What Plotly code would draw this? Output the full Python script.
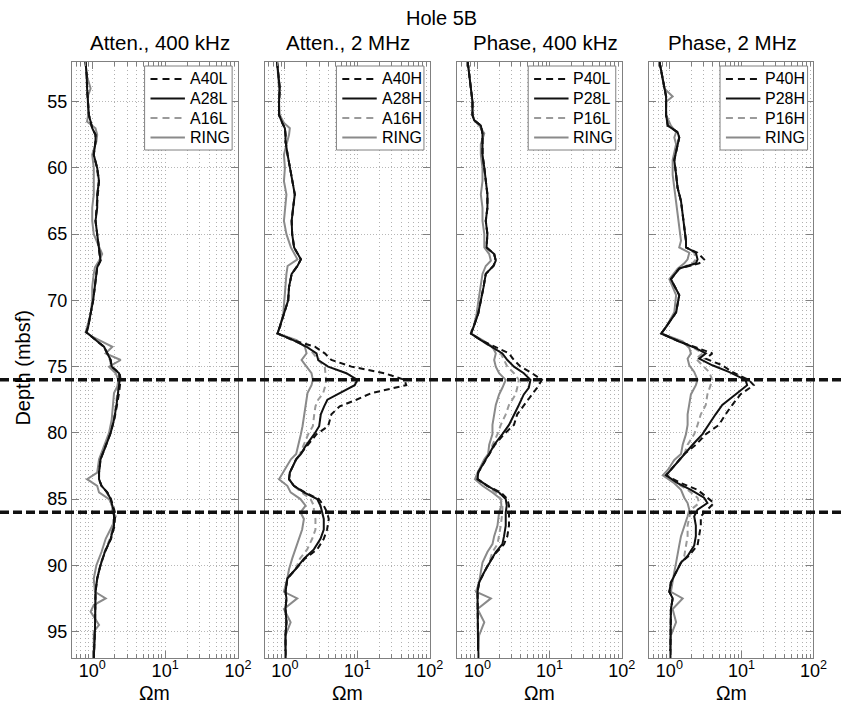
import plotly.graph_objects as go

# ---------------- data (resistivity in ohm-m vs depth in mbsf) ----------------
# Panel 1: Attenuation, 400 kHz
depth_p1 = [52, 53, 54, 54.5, 55, 56, 56.5, 57, 57.5, 58, 59, 60, 61, 62, 63, 64, 65, 66, 66.5, 67,
            67.5, 68, 69, 70, 71, 72, 72.4, 72.8, 73.2, 73.5, 74, 74.5, 75, 75.5, 76, 76.5, 77, 78, 79, 80,
            81, 82, 83, 83.5, 84, 84.5, 85, 85.5, 86, 86.3, 87, 88, 89, 90, 91, 92, 92.5, 93, 93.5, 94,
            94.5, 95, 96, 97]
A40L = [0.81, 0.84, 0.85, 0.86, 0.87, 0.90, 0.95, 1.00, 1.11, 1.11, 1.05, 1.17, 1.24, 1.20, 1.17, 1.11, 1.17, 1.24, 1.26, 1.30,
        1.17, 1.14, 1.09, 1.03, 0.95, 0.88, 0.83, 1.00, 1.24, 1.45, 1.61, 1.79, 1.85, 2.38, 2.45, 2.40, 2.33, 2.17, 2.01, 1.79,
        1.53, 1.30, 1.24, 1.24, 1.34, 1.61, 1.81, 1.93, 2.05, 2.05, 2.03, 1.81, 1.49, 1.30, 1.17, 1.11, 1.11, 1.11, 1.11, 1.11,
        1.11, 1.09, 1.07, 1.05]
A28L = [0.81, 0.84, 0.85, 0.86, 0.87, 0.90, 0.95, 1.00, 1.11, 1.11, 1.05, 1.17, 1.24, 1.17, 1.17, 1.11, 1.17, 1.24, 1.26, 1.30,
        1.17, 1.14, 1.09, 1.03, 0.95, 0.88, 0.83, 1.00, 1.24, 1.45, 1.61, 1.79, 1.85, 2.33, 2.38, 2.33, 2.28, 2.14, 1.99, 1.79,
        1.53, 1.30, 1.24, 1.24, 1.34, 1.61, 1.79, 1.89, 1.99, 1.99, 1.99, 1.79, 1.49, 1.30, 1.17, 1.11, 1.11, 1.11, 1.11, 1.11,
        1.11, 1.09, 1.07, 1.05]
A16L = [0.81, 0.84, 0.85, 0.86, 0.87, 0.90, 0.95, 1.00, 1.11, 1.11, 1.05, 1.15, 1.22, 1.17, 1.15, 1.11, 1.17, 1.24, 1.26, 1.28,
        1.17, 1.14, 1.09, 1.03, 0.95, 0.88, 0.83, 1.00, 1.24, 1.45, 1.59, 1.75, 1.82, 2.28, 2.33, 2.28, 2.22, 2.10, 1.96, 1.77,
        1.53, 1.30, 1.24, 1.24, 1.34, 1.58, 1.75, 1.85, 1.94, 1.95, 1.94, 1.75, 1.47, 1.28, 1.17, 1.11, 1.11, 1.11, 1.11, 1.11,
        1.11, 1.09, 1.07, 1.05]
RING_p1 = [0.81, 0.84, 0.95, 0.88, 0.87, 0.88, 0.85, 1.11, 1.17, 1.14, 1.00, 1.05, 1.05, 1.05, 1.00, 1.00, 1.05, 1.26, 1.37, 1.24,
           1.09, 1.05, 1.00, 1.00, 0.95, 0.85, 0.81, 1.05, 1.45, 1.89, 1.53, 2.46, 1.70, 2.10, 2.28, 2.21, 1.99, 1.93, 1.85, 1.70,
           1.45, 1.24, 1.17, 0.85, 1.17, 1.24, 1.70, 1.89, 1.89, 2.10, 1.89, 1.53, 1.34, 1.14, 1.05, 1.09, 1.53, 1.05, 0.95, 1.09,
           1.24, 1.05, 1.04, 1.05]

# Panel 2: Attenuation, 2 MHz
depth_p2 = [52, 53, 54, 55, 56, 56.6, 57, 57.5, 58, 59, 60, 61, 62, 63, 64, 65, 66, 66.9, 67.4, 68,
            69, 70, 71, 72, 72.5, 73, 73.5, 74, 74.5, 75, 75.5, 76, 76.4, 77, 77.5, 78, 78.6, 79.5, 80.1, 81,
            81.6, 82, 83, 83.5, 84, 84.5, 85, 85.5, 86, 86.5, 87.3, 88, 88.8, 89.5, 90.3, 91, 92, 92.5, 93.3, 94.3,
            95.3, 97]
A40H = [0.78, 0.81, 0.85, 0.83, 0.83, 0.92, 1.00, 1.02, 1.02, 1.09, 1.17, 1.26, 1.37, 1.30, 1.24, 1.26, 1.34, 1.66, 1.49, 1.24,
        1.14, 1.11, 0.98, 0.85, 0.79, 1.30, 2.59, 3.55, 4.38, 8.27, 23.7, 44.8, 47.2, 15.6, 9.68, 5.71, 4.38, 3.95, 2.73, 1.99,
        1.66, 1.43, 1.17, 1.14, 1.33, 1.89, 2.94, 3.44, 3.82, 4.03, 3.82, 3.44, 2.79, 1.89, 1.40, 1.08, 1.02, 1.05, 1.02, 1.05,
        1.02, 1.02]
A28H = [0.78, 0.81, 0.85, 0.83, 0.83, 0.92, 1.00, 1.02, 1.02, 1.09, 1.17, 1.26, 1.37, 1.30, 1.24, 1.26, 1.34, 1.66, 1.49, 1.24,
        1.14, 1.11, 0.98, 0.85, 0.79, 1.30, 1.99, 2.73, 2.88, 3.95, 7.05, 10.0, 9.19, 5.71, 3.86, 3.48, 3.13, 2.97, 2.54, 1.93,
        1.66, 1.43, 1.17, 1.14, 1.33, 1.83, 2.79, 3.10, 3.26, 3.44, 3.44, 3.10, 2.51, 1.83, 1.40, 1.08, 1.02, 1.05, 1.02, 1.05,
        1.02, 1.02]
A16H = [0.78, 0.81, 0.85, 0.83, 0.83, 0.92, 1.00, 1.02, 1.02, 1.09, 1.17, 1.26, 1.37, 1.30, 1.24, 1.26, 1.34, 1.66, 1.49, 1.24,
        1.14, 1.11, 0.98, 0.85, 0.79, 1.30, 2.05, 2.46, 2.88, 3.55, 3.66, 3.70, 3.63, 3.37, 2.88, 2.64, 2.54, 2.43, 2.10, 1.79,
        1.61, 1.43, 1.17, 1.14, 1.33, 1.70, 2.26, 2.51, 2.51, 2.64, 2.64, 2.38, 2.03, 1.61, 1.40, 1.08, 1.02, 1.05, 1.02, 1.05,
        1.02, 1.02]
RING_p2 = [0.78, 0.81, 0.83, 0.83, 0.85, 0.97, 1.17, 1.14, 1.08, 0.97, 1.00, 0.97, 1.05, 1.02, 0.97, 1.05, 1.21, 1.49, 1.09, 1.05,
           1.02, 0.98, 0.95, 0.85, 0.79, 1.45, 1.89, 1.99, 1.70, 1.99, 2.33, 2.43, 2.33, 2.05, 1.99, 1.89, 1.85, 1.75, 1.66, 1.53,
           1.43, 1.21, 0.95, 0.83, 1.08, 1.20, 1.64, 1.93, 1.64, 1.83, 1.73, 1.56, 1.40, 1.26, 1.14, 1.08, 0.97, 1.48, 0.97, 1.20,
           1.02, 1.02]

# Panel 3: Phase, 400 kHz
depth_p3 = [52, 53, 54, 55, 56, 56.4, 56.8, 57.4, 58.2, 59, 60, 61, 62, 63, 64, 65, 66, 66.5, 67, 67.4,
            68, 69, 70, 71, 72, 72.5, 73, 73.5, 74, 74.5, 75, 75.5, 76, 76.6, 77.1, 77.9, 78.6, 79.4, 80.1, 80.9,
            81.6, 82, 83, 83.5, 84, 84.5, 85, 85.5, 86, 87, 87.8, 88.4, 89, 89.8, 90.5, 91.3, 92, 92.5, 93.3, 94.3,
            95.3, 97]
P40L = [0.73, 0.77, 0.81, 0.85, 0.85, 0.90, 1.11, 1.17, 1.17, 1.17, 1.24, 1.30, 1.37, 1.37, 1.30, 1.37, 1.33, 1.70, 1.79, 1.66,
        1.30, 1.21, 1.11, 1.02, 0.88, 0.81, 1.11, 1.70, 2.73, 3.20, 3.95, 5.71, 7.84, 6.69, 5.71, 4.38, 3.55, 3.20, 2.33, 1.74,
        1.45, 1.30, 1.02, 1.00, 1.37, 2.10, 2.59, 2.73, 2.73, 2.73, 2.59, 2.33, 1.85, 1.45, 1.24, 1.05, 1.00, 1.00, 1.00, 1.02,
        1.02, 1.02]
P28L = [0.73, 0.77, 0.81, 0.85, 0.85, 0.90, 1.11, 1.17, 1.17, 1.17, 1.24, 1.30, 1.37, 1.37, 1.30, 1.37, 1.33, 1.70, 1.79, 1.66,
        1.30, 1.21, 1.11, 1.02, 0.88, 0.81, 1.11, 1.56, 2.21, 2.59, 3.20, 4.38, 5.42, 5.14, 4.38, 3.74, 3.20, 2.73, 2.21, 1.70,
        1.45, 1.30, 1.02, 1.00, 1.37, 1.99, 2.46, 2.54, 2.46, 2.46, 2.33, 2.21, 1.79, 1.45, 1.24, 1.05, 1.00, 1.00, 1.00, 1.02,
        1.02, 1.02]
P16L = [0.73, 0.77, 0.81, 0.85, 0.85, 0.90, 1.11, 1.17, 1.17, 1.17, 1.24, 1.30, 1.37, 1.37, 1.30, 1.37, 1.33, 1.70, 1.79, 1.66,
        1.30, 1.21, 1.11, 1.02, 0.88, 0.81, 1.11, 1.56, 2.10, 2.33, 2.59, 3.20, 3.74, 3.55, 3.37, 2.73, 2.46, 2.10, 1.89, 1.61,
        1.45, 1.30, 1.02, 1.00, 1.37, 1.79, 2.10, 2.21, 2.21, 2.10, 1.99, 1.89, 1.61, 1.45, 1.24, 1.05, 1.00, 1.00, 1.00, 1.02,
        1.02, 1.02]
RING_p3 = [0.73, 0.77, 0.81, 0.85, 0.85, 0.90, 1.05, 1.24, 1.11, 1.11, 1.17, 1.17, 1.11, 1.17, 1.17, 1.24, 1.24, 1.45, 1.53, 1.30,
           1.17, 1.09, 1.03, 0.97, 0.88, 0.81, 1.17, 1.61, 1.79, 1.70, 1.79, 1.99, 2.46, 2.21, 1.99, 1.79, 1.70, 1.61, 1.61, 1.45,
           1.40, 1.24, 1.00, 0.92, 1.17, 1.61, 2.10, 2.14, 1.99, 1.89, 1.70, 1.61, 1.37, 1.17, 1.11, 1.05, 0.95, 1.53, 1.00, 1.24,
           1.05, 1.02]

# Panel 4: Phase, 2 MHz
depth_p4 = [52, 53, 54, 54.6, 55, 56, 56.8, 57.3, 57.7, 58.2, 59.4, 60.5, 61.5, 62.5, 63.5, 64.5, 65.5, 66, 66.4, 66.9,
            67.2, 67.6, 68.4, 69.6, 70.9, 72, 72.5, 73.1, 73.6, 74, 74.4, 74.9, 75.4, 76, 76.4, 77.1, 77.9, 78.6, 79.4, 80.1,
            80.9, 81.6, 82.05, 82.8, 83.2, 83.8, 84.3, 84.9, 85.3, 85.8, 86.3, 87, 87.8, 88.5, 89.3, 89.8, 90.5, 91.3, 92, 92.5,
            93.3, 94.3, 95.3, 97]
P40H = [0.73, 0.79, 0.85, 0.90, 0.90, 0.90, 0.95, 1.30, 1.37, 1.30, 1.17, 1.24, 1.30, 1.45, 1.53, 1.61, 1.70, 1.70, 2.46, 3.03,
        2.59, 1.37, 1.05, 1.37, 1.24, 0.90, 0.77, 1.37, 2.46, 3.95, 3.20, 5.42, 7.44, 12.6, 14.8, 9.68, 7.44, 6.02, 4.87, 3.20,
        2.33, 1.61, 1.37, 1.05, 0.90, 1.45, 2.46, 3.37, 4.16, 3.37, 2.73, 2.73, 2.59, 2.46, 1.85, 1.45, 1.24, 1.05, 1.00, 1.11,
        1.05, 1.05, 1.03, 1.03]
P28H = [0.73, 0.79, 0.85, 0.90, 0.90, 0.90, 0.95, 1.30, 1.37, 1.30, 1.17, 1.24, 1.30, 1.45, 1.53, 1.61, 1.70, 1.70, 2.33, 2.46,
        2.33, 1.37, 1.05, 1.37, 1.24, 0.90, 0.77, 1.37, 2.33, 3.20, 2.59, 3.95, 6.69, 11.4, 12.0, 8.27, 5.42, 4.38, 3.55, 2.88,
        2.10, 1.61, 1.37, 1.05, 0.90, 1.30, 1.99, 3.03, 3.37, 2.46, 2.21, 2.33, 2.33, 2.21, 1.79, 1.45, 1.24, 1.05, 1.00, 1.11,
        1.05, 1.05, 1.03, 1.03]
P16H = [0.73, 0.79, 0.85, 0.90, 0.90, 0.90, 0.95, 1.30, 1.37, 1.30, 1.17, 1.24, 1.30, 1.45, 1.53, 1.61, 1.70, 1.70, 2.21, 2.33,
        2.10, 1.37, 1.05, 1.37, 1.24, 0.90, 0.77, 1.37, 2.21, 2.88, 2.33, 2.88, 3.55, 3.95, 3.74, 3.37, 3.20, 2.73, 2.46, 2.21,
        1.79, 1.61, 1.37, 1.05, 0.90, 1.24, 1.79, 2.46, 2.59, 1.99, 1.89, 1.79, 1.79, 1.70, 1.61, 1.45, 1.24, 1.05, 1.00, 1.11,
        1.05, 1.05, 1.03, 1.03]
RING_p4 = [0.73, 0.79, 0.85, 1.11, 0.90, 0.90, 1.05, 1.24, 1.17, 1.24, 1.11, 1.11, 1.17, 1.24, 1.30, 1.37, 1.45, 1.37, 1.89, 1.79,
           1.61, 1.30, 1.00, 1.24, 1.17, 0.90, 0.77, 1.53, 1.89, 1.99, 1.79, 1.89, 2.21, 2.46, 2.33, 1.99, 1.89, 1.79, 1.79, 1.70,
           1.53, 1.45, 1.17, 0.95, 0.81, 1.17, 1.45, 1.61, 1.79, 1.89, 1.79, 1.61, 1.45, 1.37, 1.30, 1.24, 1.17, 1.11, 1.05, 1.53,
           1.11, 1.24, 1.05, 1.03]

panel_titles = ["Atten., 400 kHz", "Atten., 2 MHz", "Phase, 400 kHz", "Phase, 2 MHz"]
series_names = [["A40L", "A28L", "A16L", "RING"],
                ["A40H", "A28H", "A16H", "RING"],
                ["P40L", "P28L", "P16L", "RING"],
                ["P40H", "P28H", "P16H", "RING"]]
marker_depths = [76, 86]
x_tick_vals = [1, 10, 100]
x_tick_text = ["10<sup>0</sup>", "10<sup>1</sup>", "10<sup>2</sup>"]
y_tick_vals = [55, 60, 65, 70, 75, 80, 85, 90, 95]
main_title = "Hole 5B"
x_label = "Ωm"
y_label = "Depth (mbsf)"

panels = [
    (depth_p1, [A40L, A28L, A16L, RING_p1]),
    (depth_p2, [A40H, A28H, A16H, RING_p2]),
    (depth_p3, [P40L, P28L, P16L, RING_p3]),
    (depth_p4, [P40H, P28H, P16H, RING_p4]),
]

# ---------------- layout geometry (pixels) ----------------
W, H = 856, 704
FONT = "Liberation Sans, Arial, Helvetica, sans-serif"
panel_px = [(73, 242), (269, 437), (465, 632), (660, 827)]
title_center_px = [163, 354, 555, 745]
top_px, bot_px = 62, 658

def px_x(v):
    return v / W

def px_y(v):
    return 1 - v / H

# style per series: (color, dash, width)
styles = [("#111111", "6px,4px", 2.0),
          ("#111111", "solid", 2.0),
          ("#9a9a9a", "6px,4px", 2.0),
          ("#8a8a8a", "solid", 2.0)]
legend_dash = {"solid": None, "6px,4px": "7px,5px"}
draw_order = [3, 2, 1, 0]

fig = go.Figure()
layout = dict(
    width=W, height=H,
    margin=dict(l=0, r=0, t=0, b=0),
    paper_bgcolor="white", plot_bgcolor="white",
    font=dict(family=FONT, size=18, color="black"),
    showlegend=False,
)

annotations = []
shapes = []

for i, ((depths, series), names) in enumerate(zip(panels, series_names)):
    n = i + 1
    xa = "x" if n == 1 else f"x{n}"
    ya = "y" if n == 1 else f"y{n}"
    for k in draw_order:
        color, dash, width = styles[k]
        fig.add_trace(go.Scatter(
            x=series[k], y=depths, mode="lines", name=names[k],
            line=dict(color=color, dash=dash, width=width),
            xaxis=xa, yaxis=ya, hoverinfo="skip",
        ))
    L, R = panel_px[i]
    xkey = "xaxis" if n == 1 else f"xaxis{n}"
    ykey = "yaxis" if n == 1 else f"yaxis{n}"
    layout[xkey] = dict(
        type="log", range=[-0.28, 2], domain=[px_x(L), px_x(R)], anchor=ya,
        tickvals=x_tick_vals, ticktext=x_tick_text,
        ticks="inside", ticklen=7, tickcolor="#808080",
        showline=True, linecolor="#808080", linewidth=1, mirror="ticks",
        showgrid=True, gridcolor="#b0b0b0", griddash="1px,3px", gridwidth=1,
        minor=dict(ticks="inside", ticklen=4, tickcolor="#808080", dtick="D1",
                   showgrid=True, gridcolor="#b0b0b0", griddash="1px,3px", gridwidth=1),
        tickfont=dict(size=18, family=FONT), zeroline=False, fixedrange=True,
        ticklabelstandoff=-4,
    )
    layout[ykey] = dict(
        range=[97, 52], domain=[px_y(bot_px), px_y(top_px)], anchor=xa,
        tickvals=y_tick_vals, showticklabels=(n == 1),
        ticks="inside", ticklen=7, tickcolor="#808080",
        showline=True, linecolor="#808080", linewidth=1, mirror="ticks",
        showgrid=True, gridcolor="#b8b8b8", griddash="1px,2px", gridwidth=1,
        tickfont=dict(size=18, family=FONT), zeroline=False, fixedrange=True,
    )

    # ---- legend box drawn in the panel's top-right corner ----
    bx0, bx1 = R - 95, R - 6
    by0, by1 = 66, 150
    shapes.append(dict(type="rect", xref="paper", yref="paper",
                       x0=px_x(bx0), x1=px_x(bx1), y0=px_y(by1), y1=px_y(by0),
                       fillcolor="white", line=dict(color="#808080", width=1), layer="above"))
    row_y = [79, 98.5, 118, 137.5]
    for k in range(4):
        color, dash, width = styles[k]
        ld = legend_dash[dash]
        line_style = dict(color=color, width=width)
        if ld:
            line_style["dash"] = ld
        shapes.append(dict(type="line", xref="paper", yref="paper",
                           x0=px_x(R - 89), x1=px_x(R - 54), y0=px_y(row_y[k]), y1=px_y(row_y[k]),
                           line=line_style, layer="above"))
        annotations.append(dict(
            text=names[k], x=px_x(R - 51), y=px_y(row_y[k]), xref="paper", yref="paper",
            xanchor="left", yanchor="middle", showarrow=False,
            font=dict(size=16, family=FONT, color="black")))

    annotations.append(dict(
        text=panel_titles[i], x=px_x(title_center_px[i]), y=px_y(42), xref="paper", yref="paper",
        xanchor="center", yanchor="middle", showarrow=False, font=dict(size=20.5, family=FONT)))
    annotations.append(dict(
        text=x_label, x=px_x((L + R) / 2), y=px_y(692.5), xref="paper", yref="paper",
        xanchor="center", yanchor="middle", showarrow=False, font=dict(size=19.5, family=FONT)))

annotations.append(dict(
    text=main_title, x=px_x(449), y=px_y(18), xref="paper", yref="paper",
    xanchor="center", yanchor="middle", showarrow=False, font=dict(size=20, family=FONT)))
annotations.append(dict(
    text=y_label, x=px_x(23), y=px_y(368), xref="paper", yref="paper", textangle=-90,
    xanchor="center", yanchor="middle", showarrow=False, font=dict(size=20, family=FONT)))

for d in marker_depths:
    shapes.append(dict(type="line", xref="paper", x0=0, x1=1, yref="y", y0=d, y1=d,
                       line=dict(color="#111111", width=3.5, dash="9px,4px"), layer="above"))

layout["annotations"] = annotations
layout["shapes"] = shapes
fig.update_layout(**layout)

fig.write_html("out.html", include_plotlyjs=True, config={"displayModeBar": False},
               post_script="document.body.style.margin='0px';document.body.style.padding='0px';document.body.style.overflow='hidden';")
